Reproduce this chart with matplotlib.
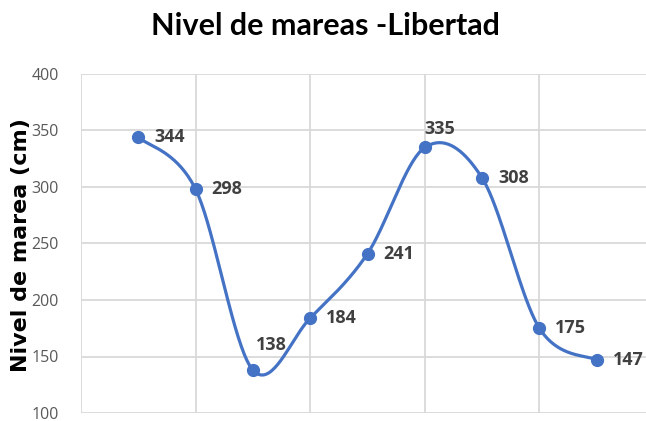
import numpy as np
import matplotlib
matplotlib.use("Agg")
import matplotlib.pyplot as plt

# Data
positions = [1, 2, 3, 4, 5, 6, 7, 8, 9]
levels = [344, 298, 138, 184, 241, 335, 308, 175, 147]
y_ticks = [100, 150, 200, 250, 300, 350, 400]
x_grid = [0, 2, 4, 6, 8, 10]
title = "Nivel de mareas -Libertad"
ylabel = "Nivel de marea (cm)"

# label offsets in points (style)
label_offsets = [(11.5, 0), (11.5, 0), (2, 18), (11.5, 0), (11.5, 0), (0, 13), (11.5, 0), (11.5, 0), (11.5, 0)]

LINE = "#4472C4"

def smooth(xs, ys, n=40):
    P = np.column_stack([xs, ys]).astype(float)
    m = len(P)
    out = [P[0]]
    for i in range(m - 1):
        p0 = P[i - 1] if i > 0 else P[i]
        p1 = P[i]
        p2 = P[i + 1]
        p3 = P[i + 2] if i + 2 < m else P[i + 1]
        c1 = p1 + (p2 - p0) / 6.0
        c2 = p2 - (p3 - p1) / 6.0
        t = np.linspace(0, 1, n)[1:, None]
        seg = ((1 - t) ** 3) * p1 + 3 * ((1 - t) ** 2) * t * c1 + 3 * (1 - t) * t ** 2 * c2 + t ** 3 * p2
        out.extend(seg)
    out = np.array(out)
    return out[:, 0], out[:, 1]

fig = plt.figure(figsize=(6.46, 4.21), dpi=100)
ax = fig.add_axes([81 / 646, 1 - 413 / 421, (654 - 81) / 646, (413 - 74) / 421])

ax.set_xlim(0, 10)
ax.set_ylim(100, 400)
ax.set_yticks(y_ticks)
ax.set_xticks(x_grid)
ax.set_xticklabels([])
ax.tick_params(axis="x", length=0)
ax.tick_params(axis="y", length=0, pad=16, labelsize=11.5, labelcolor="#595959")
for lab in ax.get_yticklabels():
    lab.set_fontfamily("Open Sans")
ax.grid(True, color="#D9D9D9", linewidth=1.3)
ax.set_axisbelow(True)
for s in ax.spines.values():
    s.set_visible(False)

sx, sy = smooth(positions, levels)
ax.plot(sx, sy, color=LINE, linewidth=2.3, solid_capstyle="round", clip_on=False)
ax.plot(positions, levels, "o", color=LINE, markersize=8.5, clip_on=False)

for x, y, off in zip(positions, levels, label_offsets):
    ax.annotate(str(y), (x, y), xytext=off, textcoords="offset points",
                ha="left", va="center", fontsize=13, fontweight="bold",
                color="#404040", family=["Liberation Sans Narrow", "Open Sans"])

fig.text(0.503, 0.938, title, ha="center", va="center", fontsize=22,
         fontweight="bold", family="Lato")
fig.text(0.033, 0.418, ylabel, ha="center", va="center", rotation=90,
         fontsize=16, fontweight="bold", family="DejaVu Sans")

fig.savefig("out.png", dpi=100)
